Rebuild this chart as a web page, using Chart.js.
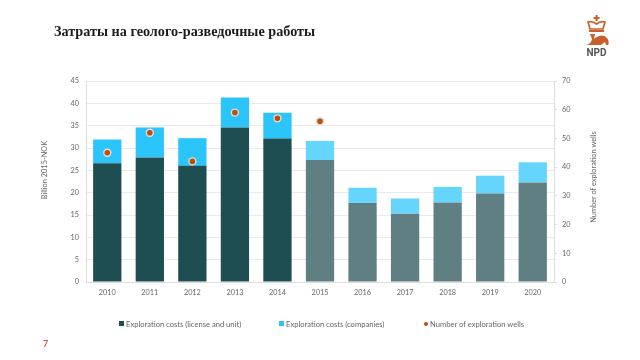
<!DOCTYPE html>
<html>
<head>
<meta charset="utf-8">
<script src="https://cdn.jsdelivr.net/npm/chart.js@4"></script>
<style>
    html, body { margin: 0; padding: 0; background: #fff; }
    #wrap { position: relative; width: 640px; height: 360px; overflow: hidden; }
    #title { position: absolute; left: 54px; top: 23px; font: bold 14.2px "Liberation Serif", serif; color: #1c1c1c; white-space: nowrap; }
    #page { position: absolute; left: 43px; top: 338px; font: 9px Lato, sans-serif; color: #b5322a; }
    #logo { position: absolute; left: 582px; top: 13px; }
    .leg { position: absolute; top: 319px; font: 7.6px Lato, sans-serif; color: #666; white-space: nowrap; }
    .leg i { position: absolute; left: -7px; top: 2px; width: 5px; height: 5px; }
    .axt { position: absolute; font: 7.4px Lato, sans-serif; color: #666; white-space: nowrap; transform: translate(-50%, -50%) rotate(-90deg); }
</style>
</head>
<body>
<div id="wrap">
    <canvas id="chart" width="640" height="360"></canvas>
    <div id="title">Затраты на геолого-разведочные работы</div>
    <svg id="logo" width="30" height="46" viewBox="0 0 30 46">
        <path d="M13.5 2h2v2h2v2h-2v2h-2V6h-2V4h2z" fill="#c8602c"/>
        <path d="M6 9c3-1 6 0 8.500 2 2.500-2 5.500-3 8.500-2l-2 7H8z" fill="none" stroke="#c8602c" stroke-width="1.7"/>
        <rect x="7" y="17" width="15" height="2" fill="#c8602c"/>
        <path d="M2 32c5 0 7-2 8-6l-2-5h5l-1 5c4-4 10-5 13-1 2 2 2 7 1 7h-2l-1-3-4 3H2z" fill="#c8602c"/>
        <text x="14.500" y="43" text-anchor="middle" font-family="Roboto, sans-serif" font-weight="bold" font-size="10" fill="#555">NPD</text>
    </svg>
    <div id="page">7</div>
    <div class="axt" style="left:44px;top:170px">Billion 2015-NOK</div>
    <div class="axt" style="left:593px;top:177px">Number of exploration wells</div>
    <div class="leg" style="left:126px"><i style="background:#1f4e52"></i>Exploration costs (license and unit)</div>
    <div class="leg" style="left:286px"><i style="background:#2bc4fb"></i>Exploration costs (companies)</div>
    <div class="leg" style="left:430px"><i style="background:#b84f10;border-radius:50%;width:4px;height:4px;left:-6px;top:3px"></i>Number of exploration wells</div>
</div>
<script>
    var years = ['2010','2011','2012','2013','2014','2015','2016','2017','2018','2019','2020'];
    var licenseCosts = [26.6, 27.9, 26.0, 34.6, 32.1, 27.3, 17.7, 15.3, 17.8, 19.8, 22.3];
    var companyCosts = [5.3, 6.7, 6.2, 6.7, 5.8, 4.3, 3.4, 3.4, 3.5, 4.0, 4.5];
    var wells = [45, 52, 42, 59, 57, 56, null, null, null, null, null];
    var darkColors = ['#1f4e52','#1f4e52','#1f4e52','#1f4e52','#1f4e52','#5f7f83','#5f7f83','#5f7f83','#5f7f83','#5f7f83','#5f7f83'];
    var lightColors = ['#2bc4fb','#2bc4fb','#2bc4fb','#2bc4fb','#2bc4fb','#66d5fd','#66d5fd','#66d5fd','#66d5fd','#66d5fd','#66d5fd'];

    var tickFont = { family: 'Lato', size: 7.3 };
    var tickColor = '#666';

    var ctx = document.getElementById('chart').getContext('2d');
    var myChart = new Chart(ctx, {
        type: 'bar',
        data: {
            labels: years,
            datasets: [{
                label: 'Number of exploration wells',
                type: 'line',
                data: wells,
                yAxisID: 'y1',
                showLine: false,
                order: 0,
                pointRadius: 3.5,
                pointBackgroundColor: '#b84f10',
                pointBorderColor: '#e8dccf',
                pointBorderWidth: 1.4
            }, {
                label: 'Exploration costs (license and unit)',
                data: licenseCosts,
                backgroundColor: darkColors,
                yAxisID: 'y',
                order: 1,
                barPercentage: 0.665,
                categoryPercentage: 1
            }, {
                label: 'Exploration costs (companies)',
                data: companyCosts,
                backgroundColor: lightColors,
                yAxisID: 'y',
                order: 1,
                barPercentage: 0.665,
                categoryPercentage: 1
            }]
        },
        options: {
            responsive: false,
            animation: false,
            layout: { padding: { left: 38, right: 40, top: 81, bottom: 0 } },
            plugins: { legend: { display: false }, tooltip: { enabled: false } },
            scales: {
                x: {
                    stacked: true,
                    grid: { display: false, drawTicks: false },
                    border: { color: '#dcdce2' },
                    ticks: { font: tickFont, color: tickColor, padding: 6, maxRotation: 0 },
                    afterFit: function(scale) { scale.height = 78; }
                },
                y: {
                    stacked: true,
                    min: 0,
                    max: 45,
                    position: 'left',
                    grid: { color: '#e9e9ee', drawTicks: false },
                    border: { color: '#dcdce2' },
                    ticks: { stepSize: 5, font: tickFont, color: tickColor, padding: 7 },
                    afterFit: function(scale) { scale.width = 48; }
                },
                y1: {
                    min: 0,
                    max: 70,
                    position: 'right',
                    grid: { drawOnChartArea: false, color: '#dcdce2', tickLength: 3 },
                    border: { color: '#dcdce2' },
                    ticks: { stepSize: 10, font: tickFont, color: tickColor, padding: 5 },
                    afterFit: function(scale) { scale.width = 46; }
                }
            }
        }
    });
</script>
</body>
</html>
